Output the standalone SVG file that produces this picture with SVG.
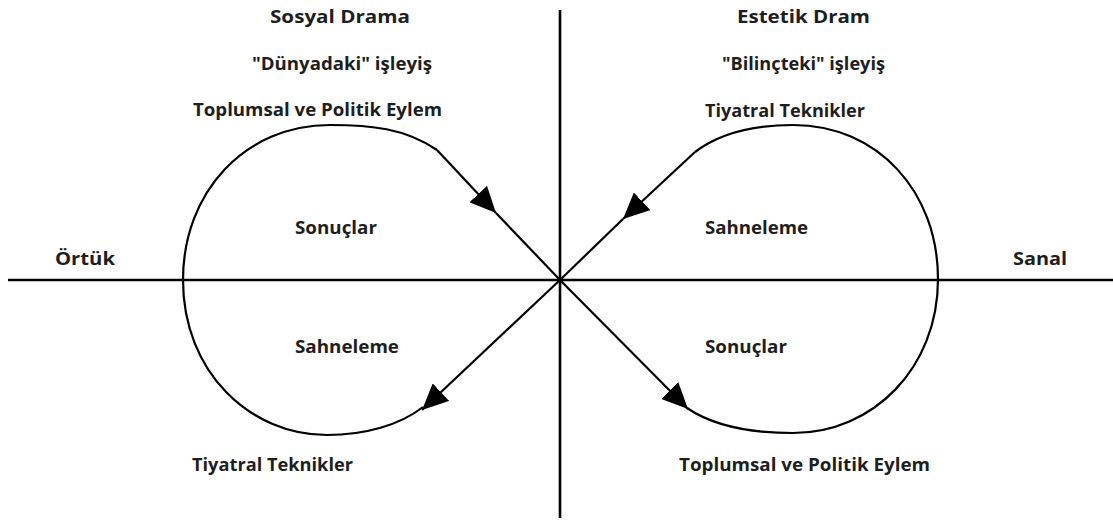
<svg xmlns="http://www.w3.org/2000/svg" width="1113" height="520" viewBox="0 0 1113 520">
<style>
text{font-family:"Open Sans","Liberation Sans",sans-serif;font-weight:bold;font-size:18px;fill:#1e1e1e}
.ax{stroke:#000;stroke-width:2.6;fill:none}
.ln{stroke:#000;stroke-width:2.2;fill:none}
</style>
<defs>
<marker id="ah" viewBox="0 0 26 24" refX="26" refY="12" markerWidth="26" markerHeight="24" markerUnits="userSpaceOnUse" orient="auto">
<path d="M0,0 L26,12 L0,24 Z" fill="#000"/>
</marker>
</defs>
<rect width="1113" height="520" fill="#fff"/>
<g id="axes">
<line class="ax" x1="560" y1="10" x2="560" y2="518"/>
<line class="ax" x1="8" y1="280" x2="1113" y2="280"/>
</g>
<g id="connectors">
<path class="ln" d="M437,150 C405,128 370,125 330,125 C245,125 183,192 183,280 C183,372 250,435 327,435 C365,435 400,425 423,407"/>
<path class="ln" d="M695,152 C720,133 755,125 793,125 C878,125 938,192 938,279 C938,368 873,433 793,433 C750,433 712,425 687,408"/>
<line class="ln" x1="437" y1="150" x2="496" y2="213" marker-end="url(#ah)"/>
<line class="ln" x1="496" y1="213" x2="560" y2="280"/>
<line class="ln" x1="695" y1="152" x2="623" y2="219" marker-end="url(#ah)"/>
<line class="ln" x1="623" y1="219" x2="560" y2="280"/>
<line class="ln" x1="560" y1="280" x2="422" y2="410" marker-end="url(#ah)"/>
<line class="ln" x1="560" y1="280" x2="688" y2="409" marker-end="url(#ah)"/>
</g>
<g id="social-drama">
<text x="270" y="23" textLength="140" lengthAdjust="spacingAndGlyphs">Sosyal Drama</text>
<text x="252" y="70" textLength="180" lengthAdjust="spacingAndGlyphs">"Dünyadaki" işleyiş</text>
<text x="193" y="116" textLength="249" lengthAdjust="spacingAndGlyphs">Toplumsal ve Politik Eylem</text>
</g>
<g id="aesthetic-drama">
<text x="737" y="23" textLength="133" lengthAdjust="spacingAndGlyphs">Estetik Dram</text>
<text x="722" y="70" textLength="163" lengthAdjust="spacingAndGlyphs">"Bilinçteki" işleyiş</text>
<text x="705" y="117" textLength="160" lengthAdjust="spacingAndGlyphs">Tiyatral Teknikler</text>
</g>
<g id="ortuk"><text x="55" y="265" textLength="60" lengthAdjust="spacingAndGlyphs">Örtük</text></g>
<g id="sanal"><text x="1013" y="265" textLength="54" lengthAdjust="spacingAndGlyphs">Sanal</text></g>
<g id="left-loop-labels">
<text x="295" y="234" textLength="82" lengthAdjust="spacingAndGlyphs">Sonuçlar</text>
<text x="295" y="353" textLength="104" lengthAdjust="spacingAndGlyphs">Sahneleme</text>
</g>
<g id="right-loop-labels">
<text x="705" y="234" textLength="103" lengthAdjust="spacingAndGlyphs">Sahneleme</text>
<text x="705" y="353" textLength="82" lengthAdjust="spacingAndGlyphs">Sonuçlar</text>
</g>
<g id="bottom-left"><text x="192" y="471" textLength="161" lengthAdjust="spacingAndGlyphs">Tiyatral Teknikler</text></g>
<g id="bottom-right"><text x="679" y="471" textLength="251" lengthAdjust="spacingAndGlyphs">Toplumsal ve Politik Eylem</text></g>
</svg>
